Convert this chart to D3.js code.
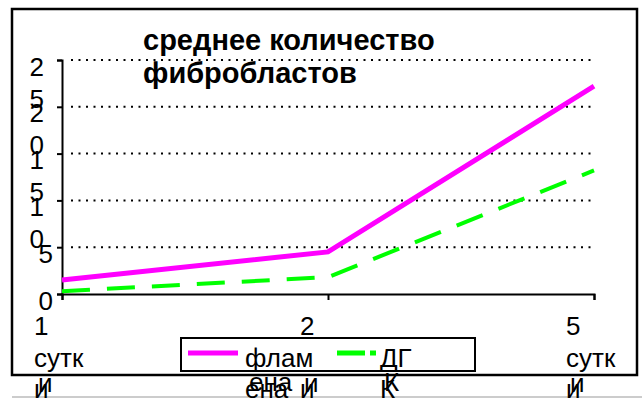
<!DOCTYPE html>
<html>
<head>
<meta charset="utf-8">
<script src="https://cdn.jsdelivr.net/npm/d3@7"></script>
<style>
  html, body { margin: 0; padding: 0; background: #fff; }
  svg { display: block; font-family: "Liberation Sans", Arial, sans-serif; }
</style>
</head>
<body>
<svg id="chart" width="642" height="398"></svg>
<script>
// Average fibroblast count by day of observation
const categories = ["1 сутки", "2 сутки", "5 сутки"];
const seriesNames = ["фламена", "ДГК"];
const flamena = [1.5, 4.5, 22.2];
const dgk = [0.3, 1.8, 13.2];
const yTicks = [0, 5, 10, 15, 20, 25];
const titleLines = ["среднее количество", "фибробластов"];

const colors = ["#ff00ff", "#00ff00"];
const series = [
  { name: seriesNames[0], values: flamena, color: colors[0], width: 5, dash: null },
  { name: seriesNames[1], values: dgk, color: colors[1], width: 4, dash: "28,17" }
];

const svg = d3.select("#chart");
const FONT = 26;

// plot region
const plot = { left: 62, right: 594, top: 60, bottom: 294 };

const x = d3.scalePoint().domain(categories).range([plot.left, plot.right]);
const y = d3.scaleLinear().domain([0, 25]).range([plot.bottom, plot.top]);

// word wrapping into a narrow box; words too long for the box break by characters
const measurer = svg.append("text").attr("font-size", FONT).attr("visibility", "hidden");
function textWidth(s) { measurer.text(s); return measurer.node().getComputedTextLength(); }
function wrapText(str, maxW) {
  const lines = [];
  let cur = "";
  for (const word of str.split(" ")) {
    const joined = cur ? cur + " " + word : word;
    if (textWidth(joined) <= maxW) { cur = joined; continue; }
    if (cur) lines.push(cur);
    cur = "";
    for (const ch of word) {
      if (cur && textWidth(cur + ch) > maxW) { lines.push(cur); cur = ch; }
      else cur += ch;
    }
  }
  if (cur) lines.push(cur);
  return lines;
}

// outer frame
svg.append("rect")
  .attr("x", 12).attr("y", 9).attr("width", 625).attr("height", 366)
  .attr("fill", "none").attr("stroke", "#000").attr("stroke-width", 2.5);
svg.append("line")
  .attr("x1", 12).attr("x2", 642).attr("y1", 397).attr("y2", 397)
  .attr("stroke", "#bbb").attr("stroke-width", 1.5);

// dotted gridlines
svg.append("g").selectAll("line")
  .data(yTicks.filter(d => d > 0))
  .join("line")
  .attr("x1", plot.left + 9).attr("x2", plot.right)
  .attr("y1", d => y(d)).attr("y2", d => y(d))
  .attr("stroke", "#000").attr("stroke-width", 2)
  .attr("stroke-dasharray", "2,5.5");

// y axis
const yAxis = d3.axisLeft(y).tickValues(yTicks).tickSize(5).tickFormat("");
const gy = svg.append("g").attr("transform", `translate(${plot.left},0)`).call(yAxis);
gy.select(".domain").attr("stroke-width", 2);
gy.selectAll(".tick line").attr("stroke-width", 2);

// y tick labels (wrapped into a narrow box)
const yLab = svg.append("g").attr("font-size", FONT).attr("fill", "#000");
yTicks.forEach(v => {
  const lines = wrapText(String(v), 20);
  const xr = lines.length > 1 ? 44 : 53;
  lines.forEach((ln, i) => {
    yLab.append("text")
      .attr("x", xr).attr("y", y(v) + 15.5 + i * 32)
      .attr("text-anchor", "end")
      .text(ln);
  });
});

// x axis
const xAxis = d3.axisBottom(x).tickSize(6).tickFormat("");
const gx = svg.append("g").attr("transform", `translate(0,${plot.bottom})`).call(xAxis);
gx.select(".domain").attr("stroke-width", 2);
gx.selectAll(".tick line").attr("stroke-width", 2);

// x category labels
const xLab = svg.append("g").attr("font-size", FONT).attr("fill", "#000");
categories.forEach(c => {
  const lines = wrapText(c, 56);
  const x0 = x(c) - 28;
  lines.forEach((ln, i) => {
    const by = 335 + i * 32;
    if (by > 375) {
      // overflowing line beneath the frame, drawn doubled
      xLab.append("text").attr("x", x0 + 4).attr("y", by - 7).text(ln);
      xLab.append("text").attr("x", x0).attr("y", by - 1).text(ln);
    } else {
      xLab.append("text").attr("x", x0).attr("y", by).text(ln);
    }
  });
});

// series lines
const line = d3.line().x((d, i) => x(categories[i])).y(d => y(d));
svg.append("g").selectAll("path")
  .data(series)
  .join("path")
  .attr("d", d => line(d.values))
  .attr("fill", "none")
  .attr("stroke", d => d.color)
  .attr("stroke-width", d => d.width)
  .attr("stroke-dasharray", d => d.dash)
  .attr("stroke-linejoin", "miter");

// title
const title = svg.append("g").attr("font-size", 29).attr("font-weight", "bold");
titleLines.forEach((t, i) => {
  title.append("text").attr("x", 143).attr("y", 50 + i * 33).text(t);
});

// legend
const leg = svg.append("g");
leg.append("rect")
  .attr("x", 181).attr("y", 338).attr("width", 294).attr("height", 33)
  .attr("fill", "#fff").attr("stroke", "#000").attr("stroke-width", 2);
const legItems = [
  { s: series[0], x0: 188, len: 50, tx: 245, dash: null, wrap: 70 },
  { s: series[1], x0: 337, len: 39, tx: 380, dash: "28,5", wrap: 40 }
];
legItems.forEach(it => {
  leg.append("line")
    .attr("x1", it.x0).attr("x2", it.x0 + it.len)
    .attr("y1", 353).attr("y2", 353)
    .attr("stroke", it.s.color).attr("stroke-width", 5)
    .attr("stroke-dasharray", it.dash);
  const lines = wrapText(it.s.name, it.wrap);
  lines.forEach((ln, i) => {
    const by = 367 + i * 25;
    if (i > 0) {
      leg.append("text").attr("font-size", FONT).attr("x", it.tx + 4).attr("y", by - 1).text(ln);
      leg.append("text").attr("font-size", FONT).attr("x", it.tx).attr("y", by + 6).text(ln);
    } else {
      leg.append("text").attr("font-size", FONT).attr("x", it.tx).attr("y", by).text(ln);
    }
  });
});

measurer.remove();
</script>
</body>
</html>
